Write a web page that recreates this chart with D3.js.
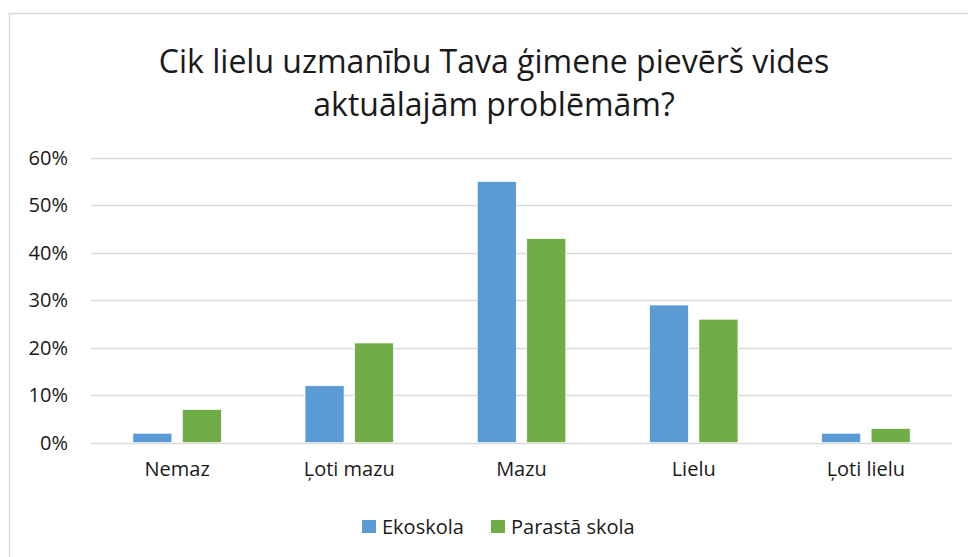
<!DOCTYPE html>
<html lang="lv">
<head>
  <meta charset="utf-8">
  <title>Cik lielu uzmanību Tava ģimene pievērš vides aktuālajām problēmām?</title>
  <script src="https://d3js.org/d3.v7.min.js"></script>
  <style>
    body { margin: 0; background: #fff; }
    svg text { font-family: "Open Sans", "Noto Sans", sans-serif; fill: #1a1a1a; }
  </style>
</head>
<body>
<svg id="chart" width="968" height="557"></svg>
<script>
  // data
  var categories = ["Nemaz", "Ļoti mazu", "Mazu", "Lielu", "Ļoti lielu"];
  var seriesNames = ["Ekoskola", "Parastā skola"];
  var ekoskola = [0.02, 0.12, 0.55, 0.29, 0.02];
  var parastaSkola = [0.07, 0.21, 0.43, 0.26, 0.03];
  var yTicks = [0, 0.1, 0.2, 0.3, 0.4, 0.5, 0.6];
  var titleLines = ["Cik lielu uzmanību Tava ģimene pievērš vides", "aktuālajām problēmām?"];
  var colors = ["#5b9bd5", "#70ad47"];

  var svg = d3.select("#chart");

  // chart frame (right and bottom edges fall outside the picture)
  svg.append("rect")
    .attr("x", 9.5).attr("y", 13.5)
    .attr("width", 1000).attr("height", 600)
    .attr("fill", "#fff")
    .attr("stroke", "#d9d9d9")
    .attr("stroke-width", 1.5);

  var plot = { left: 91, right: 952, top: 157.7, bottom: 442.7 };

  var x = d3.scaleBand()
    .domain(categories)
    .range([plot.left, plot.right]);

  var x1 = d3.scaleBand()
    .domain(seriesNames)
    .range([0, 88.6])
    .paddingInner(0.21);

  var y = d3.scaleLinear()
    .domain([0, 0.6])
    .range([plot.bottom, plot.top]);

  // title
  svg.append("text")
    .attr("text-anchor", "middle")
    .style("font-size", "32px")
    .selectAll("tspan")
    .data(titleLines)
    .enter().append("tspan")
    .attr("x", 494)
    .attr("y", function (d, i) { return 73 + i * 43; })
    .text(function (d) { return d; });

  // grid lines
  svg.append("g")
    .selectAll("line")
    .data(yTicks)
    .enter().append("line")
    .attr("x1", plot.left).attr("x2", plot.right)
    .attr("y1", function (d) { return Math.round(y(d)) + 0.5; })
    .attr("y2", function (d) { return Math.round(y(d)) + 0.5; })
    .attr("stroke", "#d9d9d9")
    .attr("stroke-width", 1.5);

  // y axis labels
  var yAxis = d3.axisLeft(y)
    .tickValues(yTicks)
    .tickFormat(d3.format(".0%"))
    .tickSize(0)
    .tickPadding(0);

  svg.append("g")
    .attr("transform", "translate(68,0)")
    .call(yAxis)
    .call(function (g) { g.select(".domain").remove(); })
    .selectAll("text")
    .attr("fill", "#1a1a1a")
    .style("font-size", "20px")
    .style("font-family", "'Open Sans', sans-serif");

  // x axis labels
  var xAxis = d3.axisBottom(x).tickSize(0).tickPadding(0);
  svg.append("g")
    .attr("transform", "translate(0,462)")
    .call(xAxis)
    .call(function (g) { g.select(".domain").remove(); })
    .selectAll("text")
    .attr("fill", "#1a1a1a")
    .style("font-size", "20px")
    .style("font-family", "'Open Sans', sans-serif");

  // bars
  var rows = categories.map(function (c, i) {
    return { cat: c, values: [ekoskola[i], parastaSkola[i]] };
  });

  var groups = svg.append("g")
    .selectAll("g")
    .data(rows)
    .enter().append("g")
    .attr("transform", function (d) {
      return "translate(" + (x(d.cat) + (x.bandwidth() - 88.6) / 2) + ",0)";
    });

  groups.selectAll("rect")
    .data(function (d) {
      return d.values.map(function (v, j) { return { name: seriesNames[j], value: v, idx: j }; });
    })
    .enter().append("rect")
    .attr("x", function (d) { return x1(d.name); })
    .attr("width", x1.bandwidth())
    .attr("y", function (d) { return y(d.value); })
    .attr("height", function (d) { return y(0) - y(d.value); })
    .attr("fill", function (d) { return colors[d.idx]; })
    .attr("stroke", "#fff")
    .attr("stroke-width", 0.75);

  // legend
  var legendX = [362, 491];
  var legend = svg.append("g")
    .selectAll("g")
    .data(seriesNames)
    .enter().append("g")
    .attr("transform", function (d, i) { return "translate(" + legendX[i] + ",520)"; });

  legend.append("rect")
    .attr("width", 14).attr("height", 13)
    .attr("fill", function (d, i) { return colors[i]; });

  legend.append("text")
    .attr("x", 20)
    .attr("y", 7)
    .attr("dy", "0.35em")
    .style("font-size", "20px")
    .text(function (d) { return d; });
</script>
</body>
</html>
